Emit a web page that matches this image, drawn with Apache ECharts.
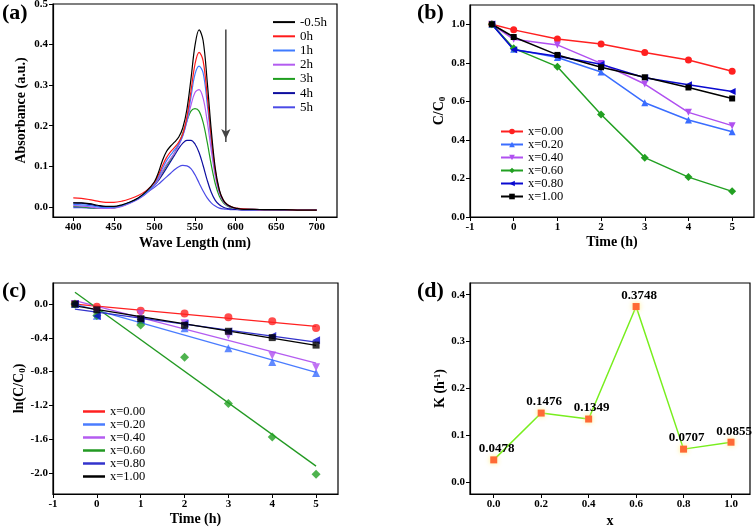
<!DOCTYPE html>
<html><head><meta charset="utf-8">
<script src="https://cdn.jsdelivr.net/npm/echarts@6/dist/echarts.min.js"></script>
<style>html,body{margin:0;padding:0;background:#fff}#c{width:756px;height:527px}</style>
</head><body><div id="c"></div>
<script>
// ---------- (a) UV-vis spectra ----------
const wavelengths = [400,410,420,430,440,450,460,470,480,490,500,505,510,515,520,525,530,535,540,545,550,555,560,565,570,575,580,585,590,595,600,610,620,640,660,680,700];
const specM05 = [0.010,0.010,0.008,0.004,0.001,0.001,0.005,0.012,0.022,0.038,0.062,0.085,0.115,0.137,0.150,0.160,0.172,0.195,0.240,0.315,0.398,0.436,0.410,0.310,0.190,0.095,0.042,0.016,0.005,0.000,-0.003,-0.006,-0.006,-0.007,-0.007,-0.008,-0.008];
const spec0h  = [0.022,0.021,0.018,0.014,0.011,0.011,0.014,0.020,0.028,0.040,0.060,0.079,0.102,0.122,0.136,0.147,0.160,0.180,0.222,0.285,0.352,0.381,0.360,0.275,0.172,0.088,0.040,0.016,0.005,0.000,-0.003,-0.005,-0.006,-0.007,-0.007,-0.008,-0.008];
const spec1h  = [0.006,0.005,0.003,0.000,-0.002,-0.001,0.003,0.010,0.020,0.034,0.055,0.073,0.095,0.114,0.128,0.141,0.155,0.176,0.212,0.270,0.327,0.347,0.330,0.255,0.162,0.084,0.038,0.015,0.004,-0.001,-0.004,-0.006,-0.006,-0.007,-0.007,-0.008,-0.008];
const spec2h  = [0.003,0.002,0.000,-0.003,-0.004,-0.003,0.001,0.009,0.019,0.033,0.053,0.068,0.088,0.105,0.119,0.133,0.151,0.176,0.210,0.250,0.282,0.289,0.268,0.212,0.140,0.075,0.034,0.013,0.003,-0.002,-0.004,-0.006,-0.006,-0.007,-0.007,-0.008,-0.008];
const spec3h  = [0.001,0.000,-0.002,-0.004,-0.004,-0.003,0.002,0.010,0.020,0.034,0.054,0.068,0.086,0.102,0.117,0.133,0.155,0.182,0.212,0.236,0.242,0.236,0.208,0.160,0.104,0.057,0.026,0.010,0.002,-0.003,-0.004,-0.006,-0.006,-0.007,-0.007,-0.008,-0.008];
const spec4h  = [0.010,0.009,0.006,0.002,0.000,0.000,0.004,0.011,0.021,0.035,0.053,0.065,0.080,0.096,0.112,0.128,0.144,0.157,0.164,0.164,0.155,0.134,0.102,0.066,0.036,0.016,0.005,-0.001,-0.004,-0.005,-0.006,-0.007,-0.007,-0.007,-0.008,-0.008,-0.008];
const spec5h  = [-0.002,-0.002,-0.003,-0.004,-0.004,-0.002,0.003,0.011,0.021,0.034,0.048,0.056,0.065,0.074,0.083,0.092,0.099,0.102,0.101,0.094,0.079,0.059,0.039,0.022,0.010,0.002,-0.003,-0.005,-0.006,-0.007,-0.007,-0.008,-0.008,-0.008,-0.008,-0.008,-0.008];
const specNames = ['-0.5h','0h','1h','2h','3h','4h','5h'];
const arrowX = 588, arrowTop = 0.437, arrowBottom = 0.160;

// ---------- (b) C/C0 vs time ----------
const timeH = [-0.5,0,1,2,3,4,5];
const cc00 = [1.0,0.971,0.924,0.898,0.854,0.815,0.756];
const cc20 = [1.0,0.870,0.828,0.752,0.593,0.503,0.442];
const cc40 = [1.0,0.922,0.893,0.797,0.690,0.543,0.474];
const cc60 = [1.0,0.875,0.780,0.532,0.308,0.207,0.133];
const cc80 = [1.0,0.868,0.834,0.792,0.723,0.686,0.651];
const cc100 = [1.0,0.934,0.841,0.777,0.725,0.672,0.615];
const sampleNames = ['x=0.00','x=0.20','x=0.40','x=0.60','x=0.80','x=1.00'];

// ---------- (c) ln(C/C0) vs time ----------
const ln00 = [0.0,-0.030,-0.080,-0.110,-0.157,-0.204,-0.282];
const ln20 = [0.0,-0.139,-0.189,-0.285,-0.523,-0.687,-0.816];
const ln40 = [0.0,-0.081,-0.113,-0.227,-0.371,-0.610,-0.747];
const ln60 = [0.0,-0.134,-0.248,-0.631,-1.178,-1.576,-2.017];
const ln80 = [0.0,-0.141,-0.181,-0.233,-0.324,-0.377,-0.429];
const ln100 = [0.0,-0.068,-0.173,-0.252,-0.322,-0.397,-0.486];
const fitX = [-0.5,5];
const fit00 = [0.000,-0.265];
const fit20 = [0.000,-0.810];
const fit40 = [0.040,-0.700];
const fit60 = [0.140,-1.920];
const fit80 = [-0.060,-0.450];
const fit100 = [-0.020,-0.490];

// ---------- (d) K vs x ----------
const kX = [0.0,0.2,0.4,0.6,0.8,1.0];
const kVals = [0.0478,0.1476,0.1349,0.3748,0.0707,0.0855];

// ---------- tick labels ----------
const ticksAx = [400,450,500,550,600,650,700];
const ticksAy = [0,0.1,0.2,0.3,0.4,0.5];
const ticksTime = [-1,0,1,2,3,4,5];
const ticksBy = [0,0.2,0.4,0.6,0.8,1.0];
const ticksCy = [-2.0,-1.6,-1.2,-0.8,-0.4,0.0];
const ticksDx = [0,0.2,0.4,0.6,0.8,1.0];
const ticksDy = [0,0.1,0.2,0.3,0.4];

const F = 'Liberation Serif';
const zip = (xs, ys) => xs.map((x, i) => [x, ys[i]]);

function axis(grid, min, max, ticks, digits, name, gap) {
  return {
    type: 'value', gridIndex: grid, min: min, max: max, name: name,
    nameLocation: 'middle', nameGap: gap,
    nameTextStyle: { fontFamily: F, fontWeight: 'bold', fontSize: 14, color: '#000',
      rich: { sub: { fontFamily: F, fontWeight: 'bold', fontSize: 9, verticalAlign: 'bottom', padding: [6,0,0,0] },
              sup: { fontFamily: F, fontWeight: 'bold', fontSize: 9, verticalAlign: 'top', padding: [0,0,6,0] } } },
    axisLine: { show: true, onZero: false, lineStyle: { color: '#000', width: 1.2 } },
    axisTick: { show: true, length: 4, customValues: ticks, lineStyle: { color: '#000', width: 1 } },
    axisLabel: { customValues: ticks, formatter: v => Number(v).toFixed(digits), fontFamily: F,
      fontWeight: 'bold', fontSize: 11, color: '#000', margin: 5 },
    splitLine: { show: false }
  };
}

const specColors = ['#000000','#ff1a1a','#3f7bff','#b35cf0','#1f9e1f','#0d0d9e','#4b4be6'];
const sampColors = ['#ff2020','#3a6dff','#b050f0','#22a022','#0a0ad0','#000000'];
const fitColors = ['#ff2020','#4a7cff','#b45cf0','#229922','#3333cc','#000000'];
const symbols = [['circle',0,7],['triangle',0,7],['triangle',180,7],['diamond',0,8],['triangle',90,7],['rect',0,6]];

const specArrays = [specM05, spec0h, spec1h, spec2h, spec3h, spec4h, spec5h];
const ccArrays = [cc00, cc20, cc40, cc60, cc80, cc100];
const lnArrays = [ln00, ln20, ln40, ln60, ln80, ln100];
const fitArrays = [fit00, fit20, fit40, fit60, fit80, fit100];

const series = [];
specArrays.forEach((arr, i) => {
  series.push({ type: 'line', name: specNames[i], xAxisIndex: 0, yAxisIndex: 0,
    data: zip(wavelengths, arr), smooth: 0.35, showSymbol: false, symbol: 'none',
    lineStyle: { color: specColors[i], width: 1.2 }, itemStyle: { color: specColors[i] }, z: 10 - i });
});
// arrow annotation
series.push({ type: 'line', name: 'arrow', xAxisIndex: 0, yAxisIndex: 0,
  data: [[arrowX, arrowTop], [arrowX, arrowBottom]], symbol: ['none', 'arrow'], symbolSize: 8,
  showSymbol: true, lineStyle: { color: '#444', width: 1.5 }, itemStyle: { color: '#444' }, z: 20,
  silent: true, tooltip: { show: false } });
// use line series endpoints: hide first symbol, show arrow at the end
series[series.length - 1].data = [
  { value: [arrowX, arrowTop], symbol: 'none' },
  { value: [arrowX, arrowBottom], symbol: 'arrow', symbolRotate: 180, symbolSize: [7, 10], symbolOffset: [0, -3] }
];

ccArrays.forEach((arr, i) => {
  series.push({ type: 'line', name: sampleNames[i], xAxisIndex: 1, yAxisIndex: 1,
    data: zip(timeH, arr), symbol: symbols[i][0], symbolRotate: symbols[i][1], symbolSize: symbols[i][2],
    lineStyle: { color: sampColors[i], width: 1.5 }, itemStyle: { color: sampColors[i] } });
});
lnArrays.forEach((arr, i) => {
  series.push({ type: 'scatter', name: 'p:' + sampleNames[i], xAxisIndex: 2, yAxisIndex: 2,
    data: zip(timeH, arr), symbol: symbols[i][0], symbolRotate: symbols[i][1], symbolSize: symbols[i][2] + 1,
    itemStyle: { color: sampColors[i] }, z: 3 });
});
fitArrays.forEach((arr, i) => {
  series.push({ type: 'line', name: 'c:' + sampleNames[i], xAxisIndex: 2, yAxisIndex: 2,
    data: zip(fitX, arr), showSymbol: false, symbol: 'none',
    lineStyle: { color: fitColors[i], width: 1.3 }, itemStyle: { color: fitColors[i] }, z: 2 });
});
series.push({ type: 'line', name: 'K', xAxisIndex: 3, yAxisIndex: 3, data: zip(kX, kVals),
  symbol: 'rect', symbolSize: 7, lineStyle: { color: '#78ee1e', width: 1.5 },
  itemStyle: { color: '#ff6a35', shadowBlur: 5, shadowColor: 'rgba(255,235,120,0.9)' },
  label: { show: true, position: 'top', distance: 1, offset: [3, 0], formatter: p => p.value[1].toFixed(4),
    fontFamily: F, fontWeight: 'bold', fontSize: 13, color: '#000' } });

const gridStyle = { show: true, borderColor: '#000', borderWidth: 1.2, outerBoundsMode: 'none', containLabel: false };
const legendText = (size, lh) => ({ fontFamily: F, fontSize: size, color: '#000', lineHeight: lh });

const option = {
  animation: false,
  backgroundColor: '#fff',
  grid: [
    Object.assign({ left: 53, top: 4, width: 284, height: 213 }, gridStyle),
    Object.assign({ left: 470, top: 5, width: 284, height: 212 }, gridStyle),
    Object.assign({ left: 53, top: 283, width: 285, height: 211 }, gridStyle),
    Object.assign({ left: 470, top: 283, width: 280, height: 211 }, gridStyle)
  ],
  xAxis: [
    axis(0, 375, 725, ticksAx, 0, 'Wave Length (nm)', 19),
    axis(1, -1, 5.5, ticksTime, 0, 'Time (h)', 18),
    axis(2, -1, 5.5, ticksTime, 0, 'Time (h)', 18),
    axis(3, -0.1, 1.08, ticksDx, 1, 'x', 20)
  ],
  yAxis: [
    axis(0, -0.025, 0.5, ticksAy, 1, 'Absorbance (a.u.)', 25),
    axis(1, 0, 1.1, ticksBy, 1, 'C/C{sub|0}', 22),
    axis(2, -2.25, 0.25, ticksCy, 1, 'ln(C/C{sub|0})', 25),
    axis(3, -0.025, 0.425, ticksDy, 1, 'K (h{sup|-1})', 22)
  ],
  legend: [
    { data: specNames, orient: 'vertical', left: 268, top: 10, itemWidth: 22, itemHeight: 2, itemGap: 0,
      icon: 'rect', textStyle: legendText(13, 14.2), selectedMode: false },
    { data: sampleNames, orient: 'vertical', left: 495, top: 120, itemWidth: 22, itemHeight: 7, itemGap: 0,
      textStyle: legendText(12.5, 12.6), selectedMode: false },
    { data: sampleNames.map(n => 'c:' + n), orient: 'vertical', left: 78, top: 400, itemWidth: 22, itemHeight: 2.5, itemGap: 0,
      icon: 'rect', formatter: n => n.replace('c:', ''), textStyle: legendText(12.5, 12.3), selectedMode: false }
  ],
  graphic: [
    { type: 'text', left: 2, top: 2, style: { text: '(a)', font: 'bold 22px "Liberation Serif"', fill: '#000' } },
    { type: 'text', left: 417, top: 2, style: { text: '(b)', font: 'bold 22px "Liberation Serif"', fill: '#000' } },
    { type: 'text', left: 2, top: 280, style: { text: '(c)', font: 'bold 22px "Liberation Serif"', fill: '#000' } },
    { type: 'text', left: 417, top: 280, style: { text: '(d)', font: 'bold 22px "Liberation Serif"', fill: '#000' } }
  ],
  series: series
};

const chart = echarts.init(document.getElementById('c'), null, { renderer: 'canvas' });
chart.setOption(option);
</script>
</body></html>
